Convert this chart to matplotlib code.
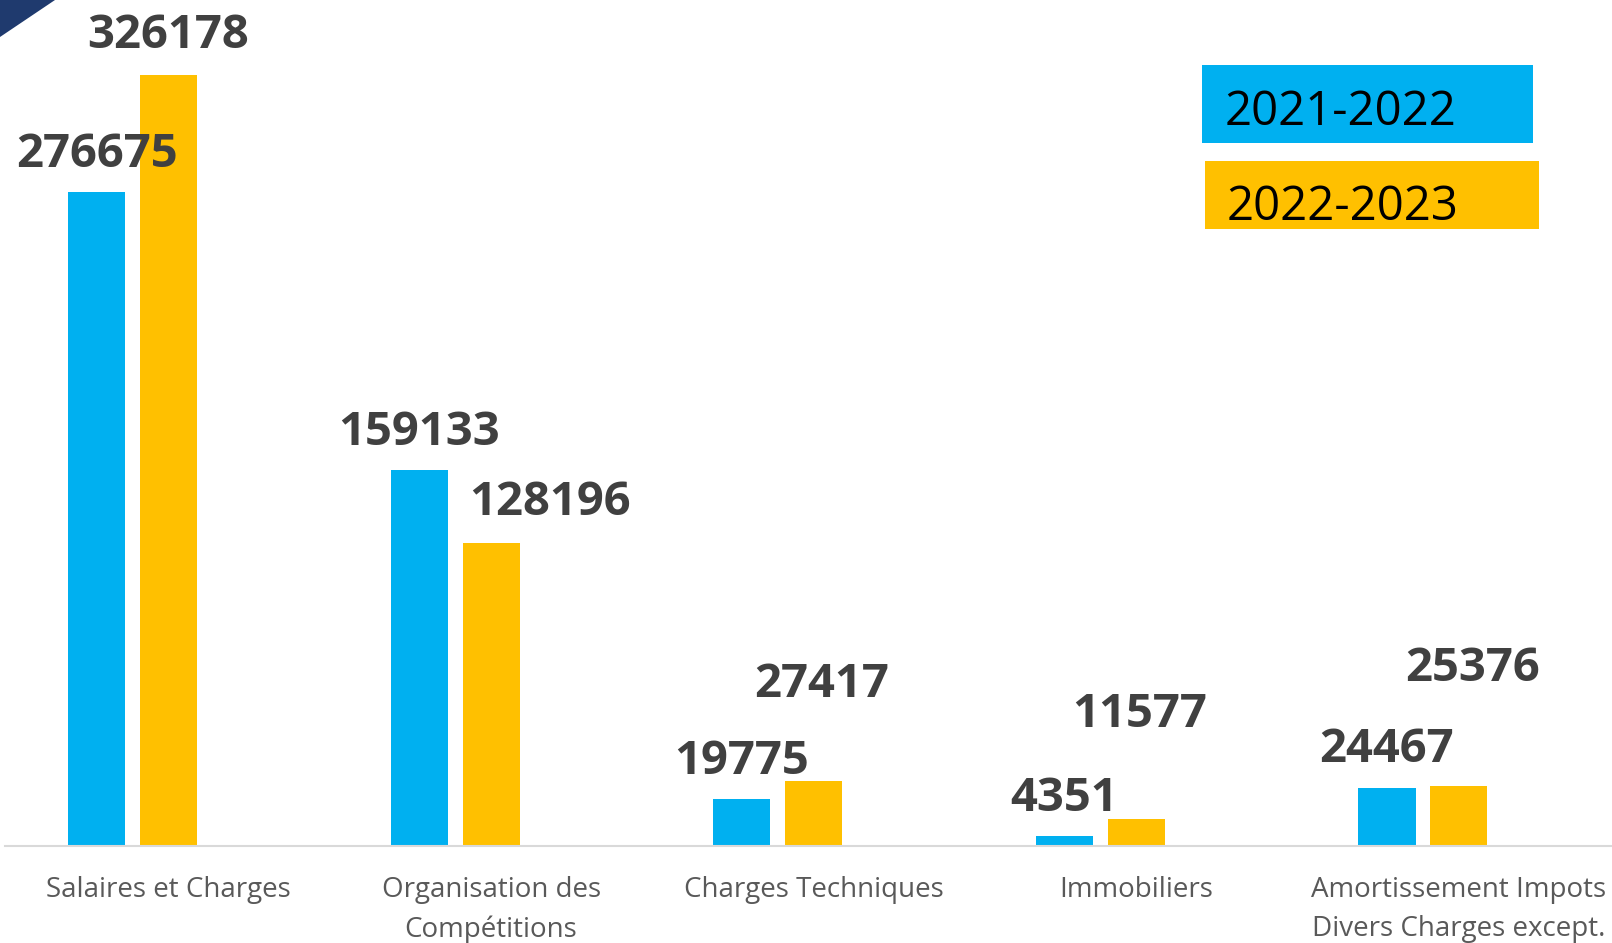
import matplotlib.pyplot as plt
import numpy as np
from matplotlib.patches import Polygon, Rectangle

plt.rcParams["font.family"] = ["Open Sans", "DejaVu Sans"]

# data
categories = [
    "Salaires et Charges",
    "Organisation des\nCompétitions",
    "Charges Techniques",
    "Immobiliers",
    "Amortissement Impots\nDivers Charges except.",
]
series_names = ["2021-2022", "2022-2023"]
values_2122 = [276675, 159133, 19775, 4351, 24467]
values_2223 = [326178, 128196, 27417, 11577, 25376]

BLUE = "#00B0F0"
YELLOW = "#FFC000"
LABEL_GREY = "#404040"
TICK_GREY = "#595959"

W, H = 1612, 943

# label nudges (pixels: dx, dy of baseline above bar top), as placed in the original
blue_offsets = [(0, 25), (0, 25), (0, 25), (0, 25), (0, 26)]
yellow_offsets = [(0, 27), (59, 28), (8, 84), (3, 92), (14, 105)]


def main():
    fig = plt.figure(figsize=(W / 100, H / 100), dpi=100)
    ax = fig.add_axes([5 / W, (H - 846) / H, 1 - 5 / W, 846 / H])

    x = np.arange(len(categories))
    width = 0.177
    shift = 0.223

    ax.bar(x - shift, values_2122, width=width, color=BLUE, zorder=2)
    ax.bar(x, values_2223, width=width, color=YELLOW, zorder=2)

    label_style = dict(textcoords="offset pixels", ha="center", va="baseline",
                       fontsize=34, fontweight="bold", color=LABEL_GREY)
    for xi, v, (dx, dy) in zip(x - shift, values_2122, blue_offsets):
        ax.annotate(str(v), xy=(xi, v), xytext=(dx, dy), **label_style)
    for xi, v, (dx, dy) in zip(x, values_2223, yellow_offsets):
        ax.annotate(str(v), xy=(xi, v), xytext=(dx, dy), **label_style)

    ax.set_xlim(-(168.5 - 5) / 322.6, (W - 168.5) / 322.6)
    ax.set_ylim(0, 846 * max(values_2223) / 771)

    ax.set_xticks(x)
    ax.set_xticklabels(categories, fontsize=20, color=TICK_GREY, linespacing=1.55)
    ax.tick_params(axis="x", length=0, pad=21.5)
    ax.set_yticks([])

    for side in ["top", "right", "left"]:
        ax.spines[side].set_visible(False)
    ax.spines["bottom"].set_color("#D9D9D9")
    ax.spines["bottom"].set_linewidth(1.5)
    ax.spines["bottom"].set_zorder(3)

    # legend boxes, drawn as coloured blocks like the slide
    boxes = [(1202, 65, 1533, 143, BLUE, 1225, 125),
             (1205, 161, 1539, 229, YELLOW, 1227, 220)]
    for name, (x0, y0, x1, y1, col, tx, ty) in zip(series_names, boxes):
        fig.add_artist(Rectangle((x0 / W, 1 - y1 / H), (x1 - x0) / W, (y1 - y0) / H,
                                 transform=fig.transFigure, color=col, lw=0))
        fig.text(tx / W, 1 - ty / H, name, fontsize=34, color="black",
                 ha="left", va="baseline")

    # dark corner from the slide template
    fig.add_artist(Polygon([(0, 1), (55 / W, 1), (0, 1 - 37 / H)],
                           closed=True, transform=fig.transFigure,
                           color="#1F3A6E", lw=0))

    fig.savefig("out.png", dpi=100)


if __name__ == "__main__":
    main()
